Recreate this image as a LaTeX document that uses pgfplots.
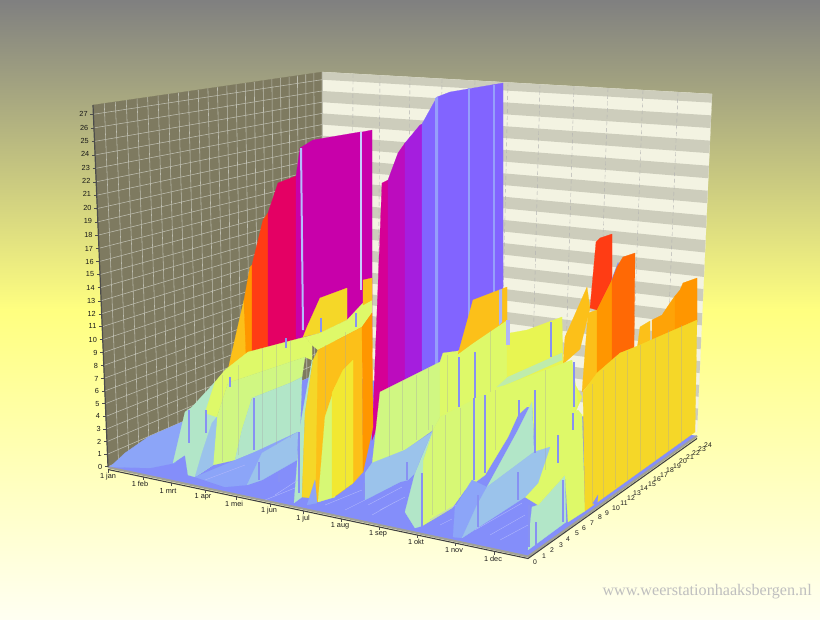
\documentclass[border=0pt]{standalone}
\usepackage{fontspec}
\setmainfont{Liberation Sans}
\newfontfamily\wm{Liberation Serif}
\usepackage{pgfplots}
\pgfplotsset{compat=1.18}
\definecolor{blueF}{RGB}{132,142,250}
\definecolor{blueM}{RGB}{140,165,248}
\definecolor{paleB}{RGB}{155,195,235}
\definecolor{mint}{RGB}{178,230,200}
\definecolor{limeG}{RGB}{208,247,130}
\definecolor{lime}{RGB}{222,249,105}
\definecolor{limeY}{RGB}{232,245,82}
\definecolor{yel}{RGB}{242,232,50}
\definecolor{gold}{RGB}{245,215,40}
\definecolor{amber}{RGB}{252,192,25}
\definecolor{orangeA}{RGB}{255,150,0}
\definecolor{orangeD}{RGB}{255,105,5}
\definecolor{redA}{RGB}{255,60,20}
\definecolor{crimson}{RGB}{228,0,100}
\definecolor{magA}{RGB}{200,0,170}
\definecolor{magB}{RGB}{213,0,150}
\definecolor{vioA}{RGB}{188,12,190}
\definecolor{vioB}{RGB}{165,30,222}
\definecolor{vioC}{RGB}{130,100,255}
\definecolor{strip}{RGB}{135,145,243}
\definecolor{wallL}{RGB}{126,122,96}
\definecolor{gridL}{RGB}{190,190,176}
\definecolor{bandL}{RGB}{243,243,226}
\definecolor{bandG}{RGB}{205,205,188}
\pgfdeclareverticalshading{bgs}{100bp}{
 color(0bp)=(white!100);
 rgb(25bp)=(1,1,0.95);
 rgb(50bp)=(1,1,0.5);
 rgb(75bp)=(0.5,0.5,0.5);
 rgb(100bp)=(0.5,0.5,0.5)}
\newcommand{\poly}[2]{\addplot[fill=#1,draw=#1,line width=.15pt,forget plot] coordinates {#2} -- cycle;}
\newcommand{\bs}[3]{\addplot[fill=strip,draw=none,forget plot] coordinates {(#1,#2)(#1+1.5,#2)(#1+1.5,#3)(#1,#3)} -- cycle;}
\newcommand{\tl}[3]{\node[font=\fontsize{5.5}{6}\selectfont,text=black!90,inner sep=0pt] at (axis cs:#1,#2) {#3};}
\newcommand{\hl}[3]{\node[font=\fontsize{5.1}{6}\selectfont,text=black!90,inner sep=0pt] at (axis cs:#1,#2) {#3};}
\newcommand{\zl}[3]{\node[font=\fontsize{5.5}{6}\selectfont,text=black!90,inner sep=0pt,anchor=east] at (axis cs:#1,#2) {#3};}
\begin{document}
\begin{tikzpicture}
\useasboundingbox (0,0) rectangle (615pt,-465pt);
\begin{axis}[at={(0,0)},anchor=north west,scale only axis,width=615pt,height=465pt,
 xmin=0,xmax=820,ymin=0,ymax=620,y dir=reverse,hide axis,clip=true,unbounded coords=jump]
\fill[shading=bgs] (axis cs:0,0) rectangle (axis cs:820,620);
% left wall
\poly{wallL}{(108,467)(93,105)(322,72)(322,372)}
\pgfplotsforeachungrouped \i in {0,...,27} {
 \pgfmathsetmacro\t{(12.5*\i+.0205*\i*\i)/361.7}
 \pgfmathsetmacro\xa{108-15*\t}\pgfmathsetmacro\ya{466.7-361.7*\t}
 \pgfmathsetmacro\yb{372-300*\t}
 \pgfmathsetmacro\xc{\xa-3}
 \edef\tmp{\noexpand\addplot[gridL,line width=.42pt,forget plot] coordinates {(\xa,\ya)(322,\yb)};
 \noexpand\addplot[black!70,line width=.35pt,forget plot] coordinates {(\xc,\ya)(\xa,\ya)};}\tmp
}
\pgfplotsforeachungrouped \i in {1,...,23} {
 \pgfmathsetmacro\u{\i/24}
 \pgfmathsetmacro\s{\u/(\u+.84*(1-\u))}
 \pgfmathsetmacro\xa{93+229*\s}\pgfmathsetmacro\ya{105-33*\s}
 \pgfmathsetmacro\xb{108+214*\s}\pgfmathsetmacro\yb{467-95*\s}
 \edef\tmp{\noexpand\addplot[gridL,line width=.42pt,forget plot] coordinates {(\xa,\ya)(\xb,\yb)};}\tmp
}
% back wall
\poly{bandL}{(322,72)(712,94)(697,432)(322,372)}
\pgfplotsforeachungrouped \i in {1,3,...,27} {
 \pgfmathsetmacro\t{(12.5*\i+.0205*\i*\i)/361.7}
 \pgfmathsetmacro\j{\i+1}
 \pgfmathsetmacro\w{min(1,(12.5*\j+.0205*\j*\j)/361.7)}
 \pgfmathsetmacro\ya{372-300*\t}\pgfmathsetmacro\yb{372-300*\w}
 \pgfmathsetmacro\xc{697+15*\w}\pgfmathsetmacro\yc{432-338*\w}
 \pgfmathsetmacro\xd{697+15*\t}\pgfmathsetmacro\yd{432-338*\t}
 \edef\tmp{\noexpand\addplot[fill=bandG,draw=none,forget plot] coordinates {(322,\ya)(322,\yb)(\xc,\yc)(\xd,\yd)} -- cycle;}\tmp
}
\pgfplotsforeachungrouped \x in {353,380,410,442,475,508,540,574,608,643,678} {
 \pgfmathsetmacro\s{(\x-322)/390}
 \pgfmathsetmacro\ya{72+22*\s}
 \pgfmathsetmacro\xb{322+375*\s}\pgfmathsetmacro\yb{372+60*\s}
 \edef\tmp{\noexpand\addplot[black!30,line width=.3pt,densely dashed,forget plot] coordinates {(\x,\ya)(\xb,\yb)};}\tmp
}
\addplot[gridL,line width=.5pt,forget plot] coordinates {(322,72)(322,372)};
% floor
\poly{blueF}{(108,467)(322,372)(697,436)(528,557)}
% magenta block
\poly{amber}{(227,374)(240,317)(244,300)(247,356)}
\poly{orangeA}{(244,300)(250,267)(252,265)(252,352)(246,356)}
\poly{redA}{(252,265)(263,220)(268,213)(268,350)(252,356)}
\poly{crimson}{(268,213)(278,183)(296,176)(296,340)(268,352)}
\poly{magA}{(296,176)(300,148)(313,140)(360,132)(362,132)(372,130)(372,340)(296,340)}
\addplot[fill=blueF!60!white,draw=none,forget plot] coordinates {(300,148)(302,148)(304,330)(302,330)} -- cycle;
\addplot[fill=blueF!45!white,draw=none,forget plot] coordinates {(360,132)(362,132)(362,290)(360,290)} -- cycle;
% purple block
\poly{magB}{(372,440)(382,183)(388,180)(388,400)}
\poly{vioA}{(388,180)(398,153)(405,143)(405,395)(388,400)}
\poly{vioB}{(405,143)(420,125)(422,124)(422,385)(405,395)}
\poly{vioC}{(422,124)(437,97)(450,92)(503,83)(503,335)(422,385)}
\addplot[fill=blueF!85!white,draw=none,forget plot] coordinates {(435,98)(438,97)(438,365)(435,365)} -- cycle;
\addplot[fill=blueF!85!white,draw=none,forget plot] coordinates {(468,88)(469.5,88)(469.5,345)(468,345)} -- cycle;
\addplot[fill=blueF!85!white,draw=none,forget plot] coordinates {(493,85)(495,85)(495,325)(493,325)} -- cycle;
% back right orange group
\poly{amber}{(563,364)(565,337)(587,287)(590,308)(580,349)}
\poly{redA}{(590,308)(596,242)(600,238)(612,234)(612,280)(597,310)}
\addplot[fill=strip,draw=none,forget plot] coordinates {(612,278)(618,262)(620,266)(590,420)(586,420)} -- cycle;
\poly{amber}{(582,392)(588,313)(597,310)(597,375)}
\poly{orangeA}{(597,310)(612,280)(612,364)(597,374)}
\poly{orangeD}{(612,280)(617,267)(623,257)(635,253)(634,348)(620,353)(612,364)}
\poly{amber}{(637,350)(640,327)(650,321)(650,345)}
\poly{orangeA!70!amber}{(652,320)(662,315)(670,303)(675,296)(675,335)(652,345)}
\poly{orangeA}{(675,296)(680,290)(683,283)(697,278)(697,322)(675,335)}
% back lime
\poly{limeG}{(372,465)(380,392)(408,378)(440,362)(440,417)(433,430)(405,450)}
\poly{lime}{(440,362)(443,353)(458,351)(473,343)(507,318)(507,400)(440,417)}
\poly{amber}{(458,354)(473,300)(507,287)(507,320)(473,343)}
\addplot[fill=strip!70!white,draw=none,forget plot] coordinates {(499,290)(502,289)(502,322)(499,325)} -- cycle;
\poly{limeY}{(507,345)(510,333)(527,330)(562,317)(563,363)(582,397)(572,420)(507,400)}
\addplot[fill=strip!65!white,draw=none,forget plot] coordinates {(506,320)(510,320)(510,345)(506,345)} -- cycle;
\poly{mint!70!lime}{(497,387)(508,377)(562,353)(562,360)(508,384)}
% W2 zones
\poly{lime}{(485,395)(508,384)(572,360)(578,403)(572,417)(565,450)(552,480)(538,500)(535,453)(532,402)(518,415)(508,437)(485,475)}
\poly{limeG!50!lime}{(433,430)(440,417)(483,395)(486,395)(485,475)(465,490)(452,508)(422,526)(423,460)}
\poly{mint}{(405,512)(415,473)(433,430)(423,460)(422,526)(415,528)}
\poly{paleB}{(365,500)(365,473)(372,463)(405,450)(432,432)(422,455)(415,473)(408,480)(400,482)}
\poly{mint}{(487,487)(517,432)(532,402)(534,452)}
\poly{lime}{(534,452)(550,447)(572,417)(565,452)(552,482)(538,505)(525,497)(538,483)}
\poly{blueM}{(453,537)(455,507)(472,480)(487,487)(477,505)(462,538)}
\poly{paleB}{(462,538)(477,505)(487,487)(534,452)(550,447)(538,483)(525,497)}
\poly{mint}{(528,550)(530,525)(532,507)(538,505)(565,475)(566,522)}
\poly{lime}{(538,505)(552,480)(565,450)(568,415)(578,410)(582,415)(585,511)(568,522)(565,475)}
% right gold block
\poly{gold}{(585,511)(583,392)(597,373)(620,353)(635,347)(697,320)(695,432)}
\poly{blueF}{(593,503)(598,495)(597,507)}
% front-left
\poly{blueM}{(110,467)(125,453)(148,437)(182,422)(200,430)(175,463)(150,468)}
\poly{gold}{(303,337)(307,327)(320,298)(347,288)(347,320)(320,333)}
\poly{mint}{(173,463)(185,412)(192,407)(215,382)(217,417)(213,465)(195,477)(188,475)(185,455)}
\poly{lime}{(205,413)(215,382)(225,370)(248,352)(305,337)(312,345)(312,360)(305,357)(228,383)(217,417)}
\poly{lime}{(305,337)(320,333)(347,320)(363,303)(372,298)(372,313)(362,327)(318,350)(312,345)}
\poly{amber}{(363,280)(372,278)(372,300)(363,305)}
\poly{limeG}{(213,465)(217,417)(228,383)(305,357)(302,377)(290,383)(252,398)(242,430)(235,460)}
\poly{mint}{(252,398)(290,383)(302,377)(300,433)(255,452)(235,460)(242,430)}
\poly{paleB}{(195,477)(202,453)(212,423)(217,417)(213,465)}
\poly{blueM}{(195,477)(255,452)(298,432)(262,453)(247,485)(225,487)}
\poly{paleB}{(247,485)(262,453)(298,432)(297,460)(262,480)}
% orange front
\poly{mint}{(294,503)(300,427)(312,360)(313,360)(305,413)(302,497)}
\poly{gold}{(302,497)(305,413)(313,360)(318,350)(318,440)(316,480)(310,498)}
\poly{amber}{(310,498)(316,480)(318,350)(362,327)(363,472)(353,483)(337,495)(318,502)}
\poly{orangeA}{(362,327)(372,313)(373,427)(363,472)}
\poly{limeG!50!lime}{(318,502)(325,417)(335,387)(335,497)}
\poly{yel}{(332,498)(332,393)(343,370)(353,360)(353,483)}
\poly{blueM}{(307,505)(315,480)(317,503)}
% floor streaks
\addplot[blueF!65!white,line width=.3pt,forget plot] coordinates {(368,505)(402,487) (405,nan) (380,510)(405,497) (410,nan) (372,515)(395,502) (400,nan) (430,520)(456,505) (460,nan) (440,525)(452,519) (470,nan) (475,530)(522,503) (525,nan) (490,535)(525,515) (530,nan) (500,540)(528,525) (535,nan) (205,480)(245,465) (250,nan) (275,495)(298,480) (300,nan) (265,500)(295,488) (300,nan) (325,505)(362,490) (365,nan) (345,510)(365,500)};
% fine lines
\addplot[black!35,line width=.2pt,opacity=.35,forget plot] coordinates {(592,384)(592,505) (600,nan) (603,370)(603,498) (610,nan) (615,358)(615,488) (620,nan) (627,351)(627,480) (630,nan) (640,345)(640,472) (650,nan) (655,338)(655,462) (660,nan) (668,330)(668,452) (675,nan) (681,325)(681,445) (685,nan) (389,387)(389,457) (395,nan) (402,381)(402,450) (405,nan) (416,375)(416,440) (420,nan) (428,368)(428,430) (435,nan) (447,355)(447,412) (450,nan) (490,330)(490,392) (495,nan) (432,425)(432,515) (440,nan) (445,415)(445,510) (450,nan) (460,408)(460,495) (465,nan) (495,390)(495,450) (500,nan) (545,370)(545,470) (550,nan) (222,375)(222,462) (230,nan) (238,365)(238,455) (245,nan) (262,348)(262,450) (270,nan) (276,345)(276,445) (280,nan) (290,340)(290,438) (295,nan) (325,345)(325,410) (330,nan) (345,332)(345,490)};
% blue strips
\bs{188}{410}{443}\bs{205}{410}{433}\bs{253}{398}{450}\bs{229}{377}{387}\bs{285}{338}{348}\bs{320}{318}{332}\bs{355}{313}{327}\bs{258}{462}{480}\bs{278}{473}{482}\bs{363}{483}{497}\bs{298}{432}{493}
\bs{458}{357}{407}\bs{474}{352}{398}\bs{473}{398}{480}\bs{484}{395}{473}\bs{518}{400}{423}\bs{534}{390}{453}\bs{557}{435}{463}
\bs{572}{413}{430}\bs{573}{362}{407}\bs{562}{480}{522}\bs{528}{505}{547}\bs{535}{522}{547}\bs{517}{472}{500}\bs{477}{495}{527}\bs{421}{473}{527}\bs{406}{462}{480}\bs{550}{322}{357}
% axes
\addplot[gridL!85!black,line width=1.5pt,forget plot] coordinates {(108,467.3)(528,556.5)(697,436)};
\addplot[black!75,line width=.8pt,forget plot] coordinates {(108,469.5)(528,558.5)(697,438.5)};
\addplot[black!70,line width=.9pt,forget plot] coordinates {(108,467)(93,105)};
\addplot[black!70,line width=.35pt,forget plot] coordinates {(108,470)(108,473) (120,nan) (143,477)(143,480) (150,nan) (171,483)(171,486) (180,nan) (205,490)(205,493) (210,nan) (236,497)(236,500) (240,nan) (270,504)(270,507) (280,nan) (303,511)(303,514) (310,nan) (341,519)(341,522) (350,nan) (379,527)(379,530) (385,nan) (417,535)(417,538) (425,nan) (455,543)(455,546) (460,nan) (494,552)(494,555)};
% labels
\tl{108}{477}{1 jan}\tl{140}{484}{1 feb}\tl{168}{491}{1 mrt}\tl{203}{497}{1 apr}\tl{234}{504}{1 mei}\tl{269}{511}{1 jun}\tl{303}{519}{1 jul}\tl{340}{526}{1 aug}\tl{378}{534}{1 sep}\tl{416}{542}{1 okt}\tl{454}{550}{1 nov}\tl{493}{559}{1 dec}
\hl{535}{562}{0}\hl{544}{556}{1}\hl{552}{550}{2}\hl{561}{545}{3}\hl{568}{539}{4}\hl{577}{533}{5}\hl{584}{528}{6}\hl{592}{523}{7}\hl{600}{517}{8}\hl{607}{513}{9}\hl{616}{508}{10}\hl{624}{503}{11}\hl{631}{498}{12}\hl{637}{493}{13}\hl{644}{488}{14}\hl{652}{484}{15}\hl{657}{479}{16}\hl{664}{475}{17}\hl{670}{470}{18}\hl{677}{466}{19}\hl{683}{461}{20}\hl{690}{457}{21}\hl{696}{453}{22}\hl{702}{449}{23}\hl{708}{445}{24}
\zl{102.5}{466.7}{0}\zl{102}{454.3}{1}\zl{101.4}{441.7}{2}\zl{100.9}{429.3}{3}\zl{100.3}{416.3}{4}\zl{99.8}{403.7}{5}\zl{99.3}{391.3}{6}\zl{98.7}{378.7}{7}\zl{98.2}{365.7}{8}\zl{97.6}{352.7}{9}\zl{97.1}{339.7}{10}\zl{96.6}{326.3}{11}\zl{96}{313.7}{12}\zl{95.5}{300.7}{13}\zl{94.9}{287.7}{14}\zl{94.4}{274.3}{15}\zl{93.9}{261.7}{16}\zl{93.3}{248.7}{17}\zl{92.8}{235.3}{18}\zl{92.2}{221.3}{19}\zl{91.7}{208.3}{20}\zl{91.2}{194.3}{21}\zl{90.6}{181.3}{22}\zl{90.1}{168.3}{23}\zl{89.5}{154.3}{24}\zl{89}{140.7}{25}\zl{88.5}{127.7}{26}\zl{87.9}{114.3}{27}
\node[font=\wm\fontsize{12.1}{13}\selectfont,text=black!25,inner sep=0pt,anchor=east] at (axis cs:812,592) {www.weerstationhaaksbergen.nl};
\end{axis}
\end{tikzpicture}
\end{document}
